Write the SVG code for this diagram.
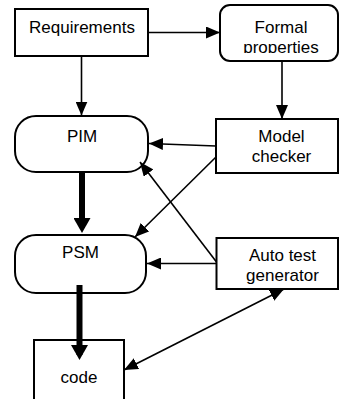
<svg xmlns="http://www.w3.org/2000/svg" width="339" height="399" viewBox="0 0 339 399">
<style>
.box{fill:#fff;stroke:#000;stroke-width:2}
.lbl{font-family:"Liberation Sans",Arial,sans-serif;font-size:17px;fill:#000;text-anchor:middle}
.ln{fill:none;stroke:#000;stroke-width:1.6}
.thk{fill:none;stroke:#000;stroke-width:6}
</style>
<defs>
<marker id="a" markerUnits="userSpaceOnUse" markerWidth="15" markerHeight="12" refX="14" refY="6" orient="auto"><path d="M0,0 L14,6 L0,12 z" fill="#000"/></marker>
<marker id="as" markerUnits="userSpaceOnUse" markerWidth="15" markerHeight="12" refX="14" refY="6" orient="auto-start-reverse"><path d="M0,0 L14,6 L0,12 z" fill="#000"/></marker>
<marker id="t" markerUnits="userSpaceOnUse" markerWidth="16" markerHeight="17" refX="10" refY="8.5" orient="auto"><path d="M0,0 L15,8.5 L0,17 z" fill="#000"/></marker>
<clipPath id="cp"><rect x="220" y="0" width="119" height="53"/></clipPath>
</defs>
<g id="requirements"><rect class="box" x="15" y="9" width="133" height="47"/><text class="lbl" x="82" y="33">Requirements</text></g>
<g id="formal"><rect class="box" x="220" y="5" width="118" height="56" rx="10"/><text class="lbl" x="281" y="32.5">Formal</text><text class="lbl" x="281" y="52.5" clip-path="url(#cp)">properties</text></g>
<g id="pim"><rect class="box" x="15" y="116" width="133" height="56" rx="21"/><text class="lbl" x="82" y="142">PIM</text></g>
<g id="modelchecker"><rect class="box" x="216" y="119" width="122" height="54"/><text class="lbl" x="281.5" y="142">Model</text><text class="lbl" x="281.5" y="162">checker</text></g>
<g id="psm"><rect class="box" x="15" y="235" width="131" height="58" rx="21"/><text class="lbl" x="80.5" y="258">PSM</text></g>
<g id="autotest"><rect class="box" x="216.5" y="238" width="121.5" height="51"/><text class="lbl" x="282.5" y="261">Auto test</text><text class="lbl" x="282.5" y="281">generator</text></g>
<g id="code"><rect class="box" x="34" y="340" width="90" height="64"/><text class="lbl" x="79" y="383">code</text></g>
<g id="connectors">
<line class="ln" x1="148" y1="32.5" x2="220" y2="32.5" marker-end="url(#a)"/>
<line class="ln" x1="81.5" y1="56" x2="81.5" y2="115.5" marker-end="url(#a)"/>
<line class="ln" x1="282" y1="61" x2="282" y2="119" marker-end="url(#a)"/>
<line class="ln" x1="216" y1="146" x2="149" y2="143.5" marker-end="url(#a)"/>
<line class="ln" x1="216.5" y1="156.5" x2="135" y2="237" marker-end="url(#a)"/>
<line class="ln" x1="216.5" y1="262" x2="140" y2="162" marker-end="url(#a)"/>
<line class="ln" x1="216.5" y1="263.5" x2="147" y2="263.5" marker-end="url(#a)"/>
<line class="ln" x1="124" y1="370" x2="284" y2="289" marker-start="url(#as)" marker-end="url(#a)"/>
<line class="thk" x1="82" y1="172" x2="82" y2="228" marker-end="url(#t)"/>
<line class="thk" x1="79.5" y1="285" x2="79.5" y2="355" marker-end="url(#t)"/>
</g>
</svg>
